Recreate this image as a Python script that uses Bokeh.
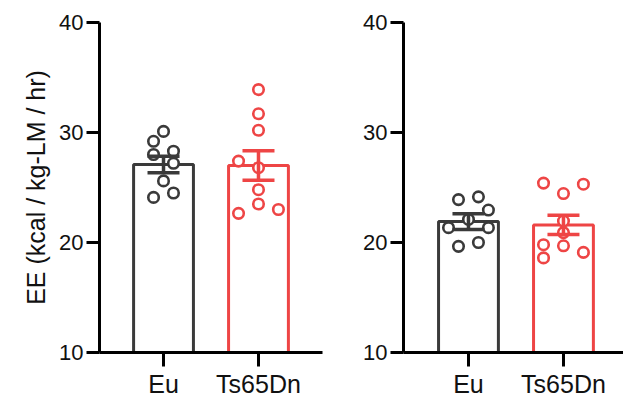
from bokeh.plotting import figure
from bokeh.layouts import row
from bokeh.models import Range1d, FixedTicker, Whisker, ColumnDataSource, TeeHead
from bokeh.embed import file_html
from bokeh.resources import INLINE

groups = ["Eu", "Ts65Dn"]
colors = ["#3a3a3a", "#ee4545"]
y_ticks = [10, 20, 30, 40]
y_label = "EE (kcal / kg-LM / hr)"

# Left panel
left_eu = [30.1, 29.2, 28.0, 28.3, 27.2, 25.6, 24.1, 24.5]
left_ts = [33.9, 31.7, 30.2, 27.4, 26.8, 24.8, 23.5, 22.65, 23.0]
left_mean = [27.1, 27.0]
left_sem = [0.75, 1.35]

# Right panel
right_eu = [23.9, 24.15, 22.95, 21.35, 22.1, 21.35, 19.65, 20.0]
right_ts = [25.4, 25.3, 24.45, 21.95, 20.9, 19.8, 19.7, 18.6, 19.1]
right_mean = [21.9, 21.6]
right_sem = [0.72, 0.88]

# horizontal scatter of the dots (category units)
left_eu_jit = [0, -0.105, -0.105, 0.105, 0.105, 0, -0.105, 0.105]
left_ts_jit = [0, 0, 0, -0.21, 0, 0, 0, -0.21, 0.21]
right_eu_jit = [-0.105, 0.105, 0.21, -0.21, 0, 0.21, -0.105, 0.105]
right_ts_jit = [-0.21, 0.21, 0, 0, 0, -0.21, 0, -0.21, 0.21]

FONT = "Liberation Sans"


def make_panel(width, bl, br, xs, xe, means, sems, pts, jits, ylabel):
    p = figure(width=width, height=400,
               x_range=Range1d(xs, xe), y_range=Range1d(10, 40),
               output_backend="svg", toolbar_location=None,
               min_border_left=bl, min_border_right=br,
               min_border_top=22, min_border_bottom=46)
    p.outline_line_color = None
    p.xgrid.visible = False
    p.ygrid.visible = False
    p.background_fill_color = "white"
    p.border_fill_color = "white"

    for i, g in enumerate(groups):
        c = colors[i]
        p.vbar(x=[i], top=[means[i]], bottom=10, width=0.63,
               fill_color="white", line_color=c, line_width=3)
        xpts = [i + j for j in jits[i]]
        p.scatter(x=xpts, y=pts[i], marker="circle", size=10.5,
                  fill_color="white", line_color=c, line_width=2.6)
        src = ColumnDataSource(dict(x=[i], lo=[means[i] - sems[i]],
                                    hi=[means[i] + sems[i]]))
        w = Whisker(base="x", lower="lo", upper="hi", source=src,
                    line_color=c, line_width=3.5, level="annotation",
                    upper_head=TeeHead(size=32, line_color=c, line_width=3.5),
                    lower_head=TeeHead(size=32, line_color=c, line_width=3.5))
        p.add_layout(w)

    p.xaxis.ticker = FixedTicker(ticks=[0, 1])
    p.xaxis.major_label_overrides = {0: groups[0], 1: groups[1]}
    p.yaxis.ticker = FixedTicker(ticks=y_ticks)
    for ax in (p.xaxis, p.yaxis):
        ax.axis_line_width = 3
        ax.axis_line_color = "black"
        ax.major_tick_line_width = 3
        ax.major_tick_line_color = "black"
        ax.major_tick_in = 0
        ax.minor_tick_line_color = None
        ax.major_label_text_font = FONT
        ax.major_label_text_color = "#111111"
    p.yaxis.major_tick_out = 13
    p.yaxis.major_label_standoff = 3
    p.yaxis.major_label_text_font_size = "22px"
    p.xaxis.major_tick_out = 14
    p.xaxis.major_label_standoff = 3
    p.xaxis.major_label_text_font_size = "25px"
    if ylabel:
        p.yaxis.axis_label = ylabel
        p.yaxis.axis_label_text_font = FONT
        p.yaxis.axis_label_text_font_size = "25px"
        p.yaxis.axis_label_text_font_style = "normal"
        p.yaxis.axis_label_text_color = "#111111"
        p.yaxis.axis_label_standoff = 6
    return p


p1 = make_panel(340, 99, 18, -0.674, 1.674, left_mean, left_sem,
                [left_eu, left_ts], [left_eu_jit, left_ts_jit], y_label)
p2 = make_panel(283, 63, 0, -0.684, 1.632, right_mean, right_sem,
                [right_eu, right_ts], [right_eu_jit, right_ts_jit], None)

layout = row(p1, p2)
open("out.html", "w").write(file_html(layout, INLINE))
